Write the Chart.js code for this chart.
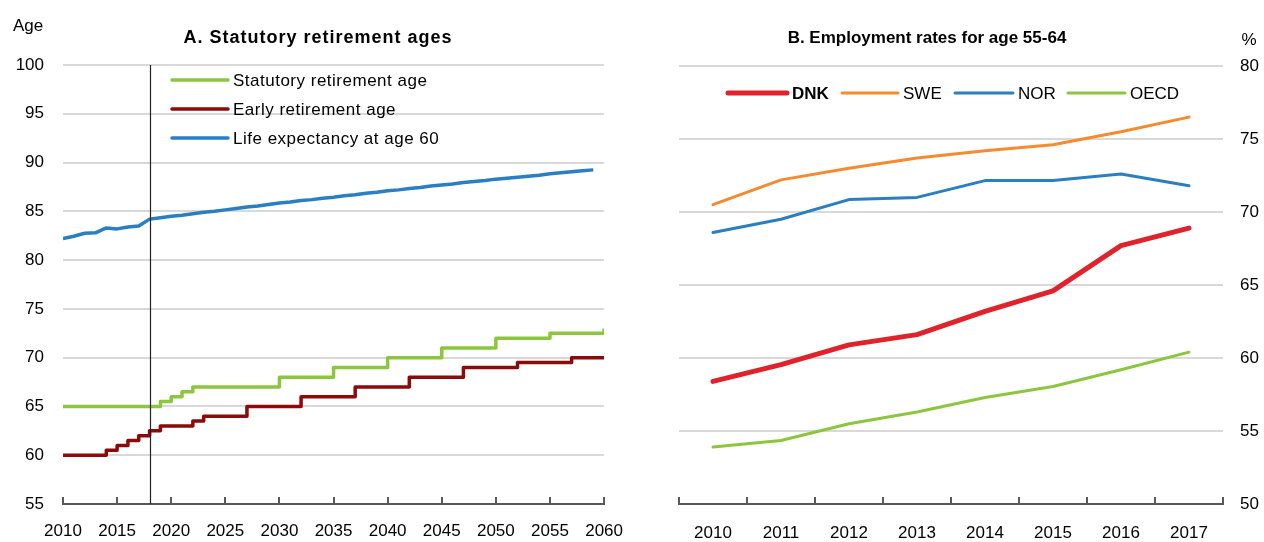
<!DOCTYPE html>
<html lang="en">
<head>
<meta charset="UTF-8">
<title>Statutory retirement ages and employment rates</title>
<script src="https://cdn.jsdelivr.net/npm/chart.js"></script>
<style>
    body { margin: 0; background: #fff; }
    .wrap { position: relative; width: 1264px; height: 542px; }
    #chartA { position: absolute; left: 0; top: 0; }
    #chartB { position: absolute; left: 640px; top: 0; }
</style>
</head>
<body>
<div class="wrap">
    <canvas id="chartA" width="640" height="542"></canvas>
    <canvas id="chartB" width="624" height="542"></canvas>
</div>
<script>
// Panel A: statutory retirement ages
const yearsA = [2010, 2011, 2012, 2013, 2014, 2015, 2016, 2017, 2018, 2019,
    2020, 2021, 2022, 2023, 2024, 2025, 2026, 2027, 2028, 2029,
    2030, 2031, 2032, 2033, 2034, 2035, 2036, 2037, 2038, 2039,
    2040, 2041, 2042, 2043, 2044, 2045, 2046, 2047, 2048, 2049,
    2050, 2051, 2052, 2053, 2054, 2055, 2056, 2057, 2058, 2059, 2060];
const statutoryAge = [65, 65, 65, 65, 65, 65, 65, 65, 65, 65.5,
    66, 66.5, 67, 67, 67, 67, 67, 67, 67, 67,
    68, 68, 68, 68, 68, 69, 69, 69, 69, 69,
    70, 70, 70, 70, 70, 71, 71, 71, 71, 71,
    72, 72, 72, 72, 72, 72.5, 72.5, 72.5, 72.5, 72.5, 73];
const earlyAge = [60, 60, 60, 60, 60.5, 61, 61.5, 62, 62.5, 63,
    63, 63, 63.5, 64, 64, 64, 64, 65, 65, 65,
    65, 65, 66, 66, 66, 66, 66, 67, 67, 67,
    67, 67, 68, 68, 68, 68, 68, 69, 69, 69,
    69, 69, 69.5, 69.5, 69.5, 69.5, 69.5, 70, 70, 70, 70];
const lifeExp60 = [82.2, 82.45, 82.75, 82.8, 83.3, 83.2, 83.4, 83.5, 84.2, 84.35,
    84.5, 84.6, 84.75, 84.9, 85.0, 85.15, 85.3, 85.45, 85.55, 85.7,
    85.85, 85.95, 86.1, 86.2, 86.35, 86.45, 86.6, 86.7, 86.85, 86.95,
    87.1, 87.2, 87.35, 87.45, 87.6, 87.7, 87.8, 87.95, 88.05, 88.15,
    88.3, 88.4, 88.5, 88.6, 88.7, 88.85, 88.95, 89.05, 89.15, 89.25, null];
const markerYear = 2018;

// Panel B: employment rates for age 55-64
const yearsB = ['2010', '2011', '2012', '2013', '2014', '2015', '2016', '2017'];
const dnk = [58.4, 59.55, 60.9, 61.6, 63.2, 64.6, 67.7, 68.9];
const swe = [70.5, 72.2, 73.0, 73.7, 74.2, 74.6, 75.5, 76.5];
const nor = [68.6, 69.5, 70.85, 71.0, 72.15, 72.15, 72.6, 71.8];
const oecd = [53.9, 54.35, 55.5, 56.3, 57.3, 58.05, 59.2, 60.4];

const GREEN = '#8cc63e', DARKRED = '#8b0a0a', BLUE = '#2a7ec2', RED = '#e0232b', ORANGE = '#f58a2f';
const GRID = '#d9d9d9', AXIS = '#595959';
const FONT = '"Liberation Sans", Arial, sans-serif';

Chart.defaults.font.family = FONT;
Chart.defaults.font.size = 17;
Chart.defaults.color = '#000';

function toXY(xs, ys) {
    return xs.map((x, i) => ({ x: x, y: ys[i] }));
}

// draws titles, the little inward ticks, the 2018 marker and the legend
const decorations = {
    id: 'decorations',
    afterDatasetsDraw(chart, args, opts) {
        const ctx = chart.ctx;
        const area = chart.chartArea;
        const xs = chart.scales.x;
        ctx.save();

        // inward tick marks on the x axis
        ctx.strokeStyle = AXIS;
        ctx.lineWidth = 2;
        let tickXs = [];
        if (opts.boundaryTicks) {
            const n = chart.data.labels.length;
            for (let i = 0; i <= n; i++) tickXs.push(area.left + i * (area.right - area.left) / n);
        } else {
            tickXs = xs.ticks.map(t => xs.getPixelForValue(t.value));
        }
        tickXs.forEach(x => {
            ctx.beginPath();
            ctx.moveTo(Math.round(x), area.bottom);
            ctx.lineTo(Math.round(x), area.bottom - 7);
            ctx.stroke();
        });

        if (opts.marker) {
            const mx = Math.round(xs.getPixelForValue(opts.marker)) + 0.5;
            ctx.strokeStyle = '#222';
            ctx.lineWidth = 1.2;
            ctx.beginPath();
            ctx.moveTo(mx, area.top);
            ctx.lineTo(mx, area.bottom);
            ctx.stroke();
        }

        // legend
        ctx.textBaseline = 'middle';
        ctx.textAlign = 'left';
        ctx.letterSpacing = opts.legendSpacing || '0px';
        chart.data.datasets.forEach((ds, i) => {
            const pos = opts.legend[i];
            ctx.strokeStyle = ds.borderColor;
            ctx.lineWidth = pos.w;
            ctx.lineCap = 'round';
            ctx.beginPath();
            ctx.moveTo(pos.x, pos.y);
            ctx.lineTo(pos.x + pos.len, pos.y);
            ctx.stroke();
            ctx.fillStyle = '#000';
            ctx.font = (pos.bold ? 'bold ' : '') + '17px ' + FONT;
            ctx.fillText(ds.label, pos.x + pos.len + 5, pos.y + 1);
        });

        // title and unit
        ctx.font = opts.titleFont;
        ctx.letterSpacing = opts.titleSpacing || '0px';
        ctx.textAlign = 'center';
        ctx.fillText(opts.title, opts.titleX, 38);
        ctx.letterSpacing = '0px';
        ctx.font = '17px ' + FONT;
        ctx.fillText(opts.unit, opts.unitX, opts.unitY);
        ctx.restore();
    }
};

new Chart(document.getElementById('chartA'), {
    type: 'line',
    data: {
        datasets: [
            { label: 'Statutory retirement age', data: toXY(yearsA, statutoryAge), borderColor: GREEN, borderWidth: 3.5, stepped: true },
            { label: 'Early retirement age', data: toXY(yearsA, earlyAge), borderColor: DARKRED, borderWidth: 3.5, stepped: true },
            { label: 'Life expectancy at age 60', data: toXY(yearsA, lifeExp60), borderColor: BLUE, borderWidth: 3.5 }
        ]
    },
    options: {
        responsive: false,
        animation: false,
        layout: { padding: { top: 65, right: 31, left: 0, bottom: 0 } },
        elements: { point: { radius: 0 }, line: { tension: 0, borderJoinStyle: 'round' } },
        plugins: {
            legend: { display: false },
            tooltip: { enabled: false },
            decorations: {
                title: 'A. Statutory retirement ages', titleX: 318,
                titleFont: 'bold 18px ' + FONT, titleSpacing: '1px',
                unit: 'Age', unitX: 28, unitY: 26,
                marker: markerYear,
                legendSpacing: '0.5px',
                legend: [
                    { x: 172, y: 80, len: 56, w: 3.5 },
                    { x: 172, y: 109, len: 56, w: 3.5 },
                    { x: 172, y: 138, len: 56, w: 3.5 }
                ]
            }
        },
        scales: {
            x: {
                type: 'linear', min: 2010, max: 2060,
                ticks: { stepSize: 5, padding: 17, callback: v => String(v), maxRotation: 0 },
                grid: { drawOnChartArea: false, drawTicks: false },
                border: { display: true, color: AXIS, width: 2 },
                afterFit: s => { s.height = 38; }
            },
            y: {
                min: 55, max: 100,
                ticks: { stepSize: 5, padding: 19 },
                grid: { color: GRID, lineWidth: 2, drawTicks: false },
                border: { display: false },
                afterFit: s => { s.width = 63; }
            }
        }
    },
    plugins: [decorations]
});

new Chart(document.getElementById('chartB'), {
    type: 'line',
    data: {
        labels: yearsB,
        datasets: [
            { label: 'DNK', data: dnk, borderColor: RED, borderWidth: 5 },
            { label: 'SWE', data: swe, borderColor: ORANGE, borderWidth: 3 },
            { label: 'NOR', data: nor, borderColor: BLUE, borderWidth: 3 },
            { label: 'OECD', data: oecd, borderColor: GREEN, borderWidth: 3 }
        ]
    },
    options: {
        responsive: false,
        animation: false,
        layout: { padding: { top: 66, left: 39, right: 0, bottom: 0 } },
        elements: { point: { radius: 0 }, line: { tension: 0, borderJoinStyle: 'round', borderCapStyle: 'round' } },
        plugins: {
            legend: { display: false },
            tooltip: { enabled: false },
            decorations: {
                title: 'B. Employment rates for age 55-64', titleX: 287,
                titleFont: 'bold 17px ' + FONT,
                unit: '%', unitX: 609, unitY: 40,
                boundaryTicks: true,
                legend: [
                    { x: 88, y: 93, len: 59, w: 5, bold: true },
                    { x: 202, y: 93, len: 56, w: 3 },
                    { x: 315, y: 93, len: 58, w: 3 },
                    { x: 428, y: 93, len: 57, w: 3 }
                ]
            }
        },
        scales: {
            x: {
                offset: true,
                ticks: { padding: 19, maxRotation: 0 },
                grid: { drawOnChartArea: false, drawTicks: false, offset: true },
                border: { display: true, color: AXIS, width: 2 },
                afterFit: s => { s.height = 38; }
            },
            y: {
                position: 'right',
                min: 50, max: 80,
                ticks: { stepSize: 5, padding: 17 },
                grid: { color: GRID, lineWidth: 2, drawTicks: false },
                border: { display: false },
                afterFit: s => { s.width = 41; }
            }
        }
    },
    plugins: [decorations]
});
</script>
</body>
</html>
